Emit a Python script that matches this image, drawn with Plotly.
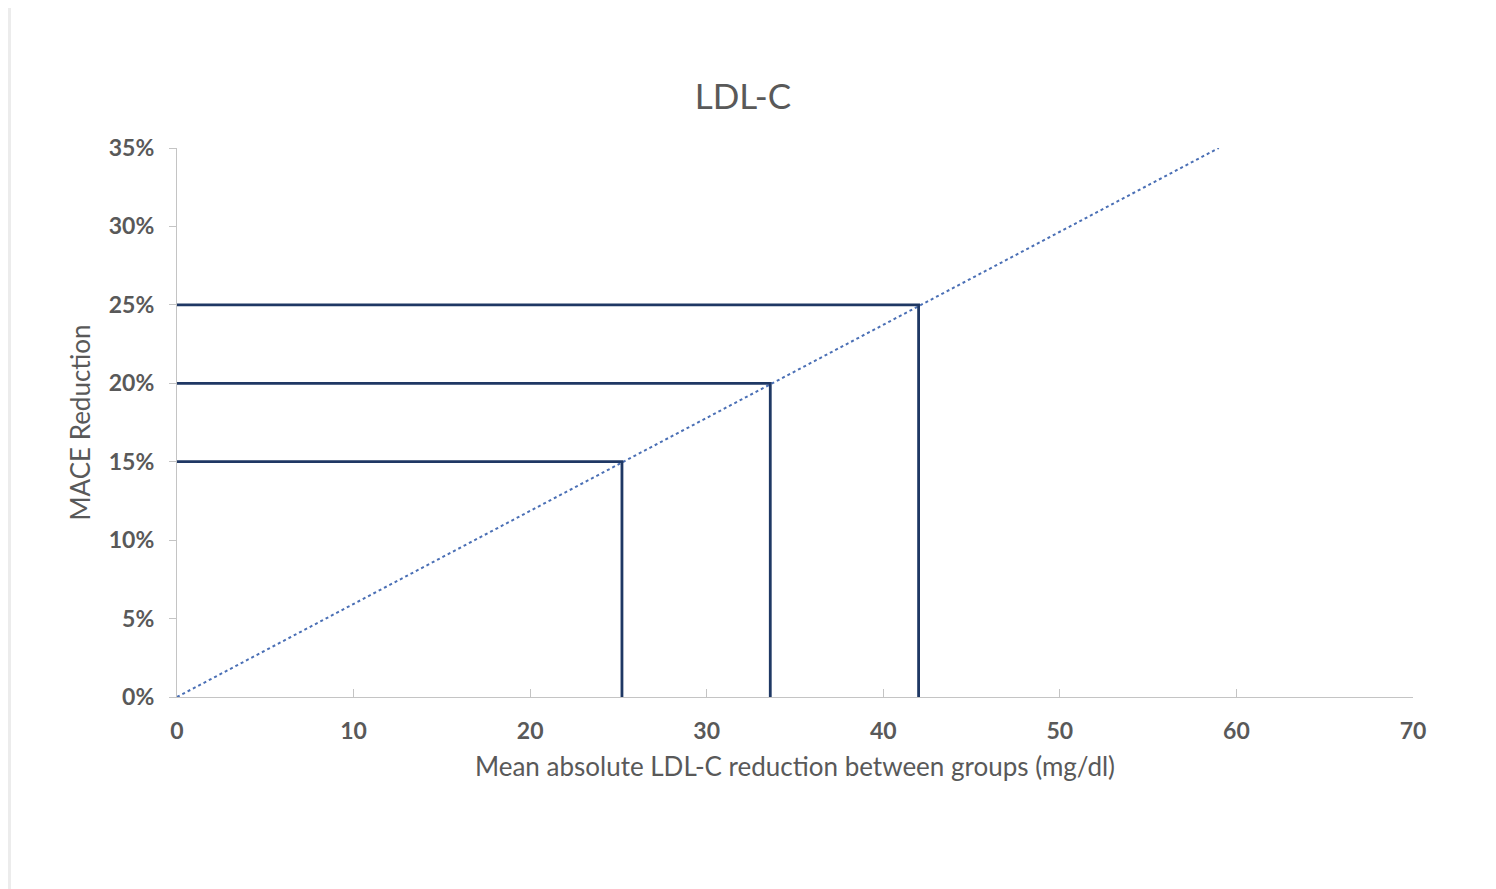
import plotly.graph_objects as go

# Data
mace_reduction = [0.15, 0.20, 0.25]          # MACE reduction targets (fraction)
ldl_reduction = [25.2, 33.6, 42.0]           # mg/dl needed for each target
trend_x = [0, 59]                            # trend line LDL-C reduction (mg/dl)
trend_y = [0.0, 0.35]                        # trend line MACE reduction
x_ticks = [0, 10, 20, 30, 40, 50, 60, 70]
y_ticks = [0, 0.05, 0.10, 0.15, 0.20, 0.25, 0.30, 0.35]

fig = go.Figure()

# dotted trend line
fig.add_trace(go.Scatter(
    x=trend_x, y=trend_y, mode="lines",
    line=dict(color="#4a6fb5", width=2, dash="dot"),
    hoverinfo="skip", showlegend=False))

# L-shaped reference lines
for xv, yv in zip(ldl_reduction, mace_reduction):
    fig.add_trace(go.Scatter(
        x=[0, xv, xv], y=[yv, yv, 0], mode="lines",
        line=dict(color="#1f3864", width=2.8),
        showlegend=False))

# figure sits inside an 8px body margin
W, H = 1488, 881
L, R, T, B = 169, 83, 140, 192
pw, ph = W - L - R, H - T - B

def px_to_paper_x(p):
    return (p - L) / pw

def px_to_paper_y(p):
    return (H - B - p) / ph

# white card on gray background
fig.add_shape(type="rect", xref="paper", yref="paper",
              x0=px_to_paper_x(3), x1=px_to_paper_x(W + 5),
              y0=px_to_paper_y(H + 5), y1=px_to_paper_y(-5),
              fillcolor="white", line=dict(width=0), layer="below")

FAM = "Lato, 'Open Sans', sans-serif"
tick_font = dict(family=FAM, size=23, color="#595959", weight="bold")
title_font = dict(family=FAM, size=26, color="#595959")

fig.update_layout(
    width=W, height=H,
    margin=dict(l=L, r=R, t=T, b=B, autoexpand=False),
    paper_bgcolor="#ececec",
    plot_bgcolor="rgba(0,0,0,0)",
    title=dict(text="LDL-C", x=735 / W, xref="container", xanchor="center",
               y=1 - 89 / H, yref="container", yanchor="middle",
               font=dict(family=FAM, size=35, color="#595959")),
    xaxis=dict(range=[0, 70], tickvals=x_ticks, showgrid=False, zeroline=False,
               showline=True, linecolor="#c4c4c4", linewidth=1.3,
               ticks="inside", ticklen=8, tickcolor="#c4c4c4", tickwidth=1.3,
               tickfont=tick_font, ticklabelstandoff=13,
               title=dict(text="Mean absolute LDL-C reduction between groups (mg/dl)",
                          font=title_font, standoff=15)),
    yaxis=dict(range=[0, 0.35], tickvals=y_ticks, tickformat=".0%", showgrid=False,
               zeroline=False, showline=True, linecolor="#c4c4c4", linewidth=1.3,
               ticks="outside", ticklen=7, tickcolor="#c4c4c4", tickwidth=1.3,
               tickfont=tick_font, ticklabelstandoff=10,
               title=dict(text="MACE Reduction", font=title_font, standoff=10)),
)

fig.write_html("out.html")
